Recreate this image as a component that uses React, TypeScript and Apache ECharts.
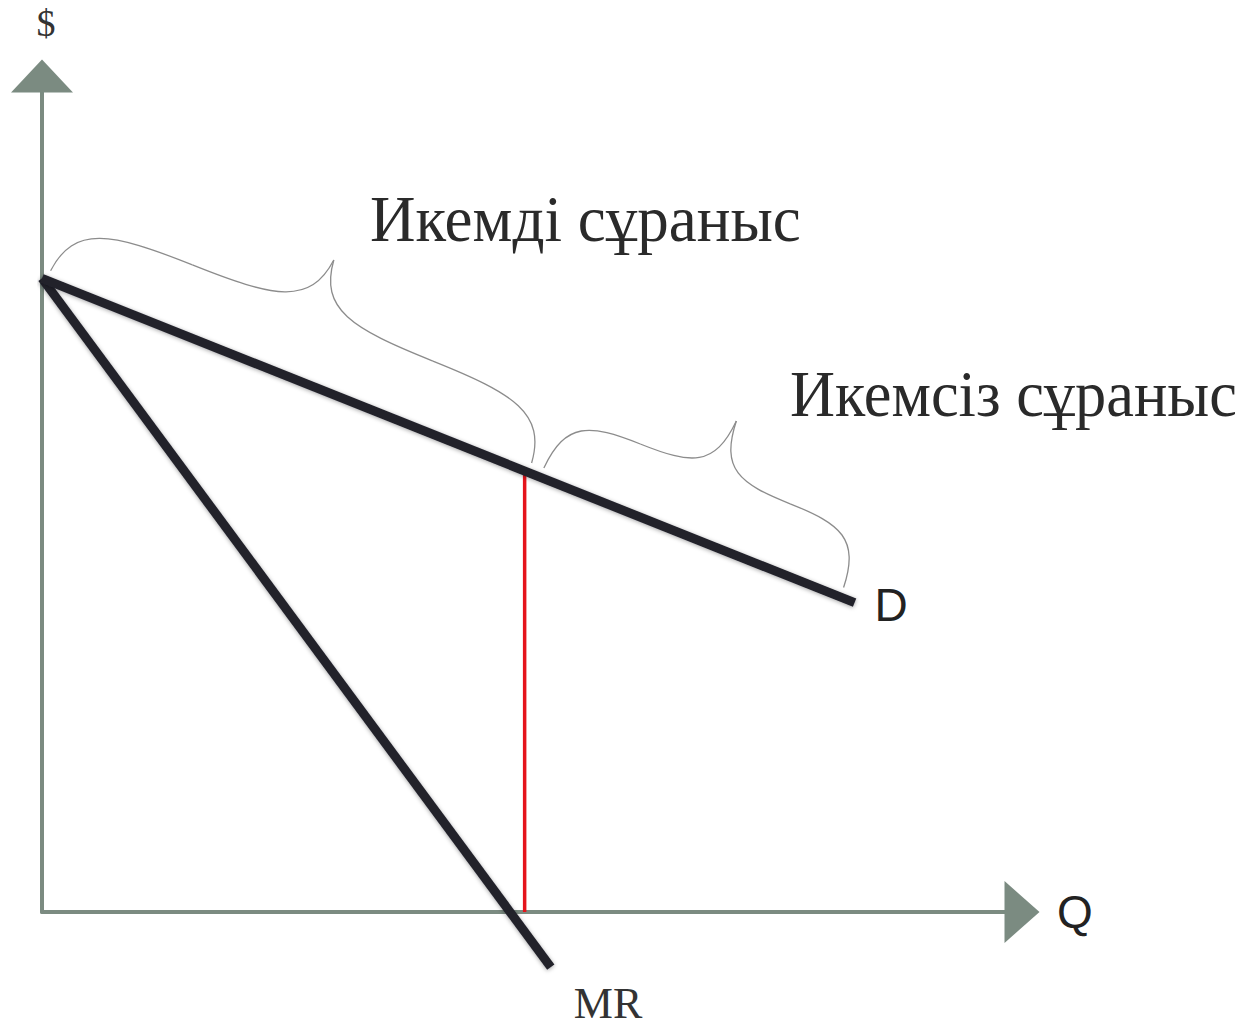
import React, { useEffect, useRef } from "react";
import * as echarts from "echarts";

// Demand curve D and marginal revenue MR (Q, $)
const demandCurve: [number, number][] = [
  [0, 7.58],
  [9.95, 3.7],
];
const marginalRevenue: [number, number][] = [
  [0, 7.58],
  [6.23, -0.66],
];
// vertical red line where MR = 0 (unit elasticity point)
const unitElasticLine: [number, number][] = [
  [5.91, 0],
  [5.91, 5.28],
];
// brace ranges along D
const elasticRange: [number, number][] = [
  [0.06, 7.56],
  [5.95, 5.26],
];
const inelasticRange: [number, number][] = [
  [6.1, 5.2],
  [9.77, 3.77],
];
const rangeLabels = ["Икемді сұраныс", "Икемсіз сұраныс"];
const xAxisName = "Q";
const yAxisName = "$";
const curveNames = ["D", "MR"];

const AXIS_COLOR = "#7b8b81";
const CURVE_COLOR = "#22222c";
const SERIF = '"Liberation Serif", "Times New Roman", serif';
const SANS = '"Liberation Sans", Arial, sans-serif';

function braceCurves(a: number[], b: number[]) {
  const dx = b[0] - a[0];
  const dy = b[1] - a[1];
  const L = Math.hypot(dx, dy);
  const u = [dx / L, dy / L];
  const n = [u[1], -u[0]];
  const e = 10;
  const arm = 68;
  const tip = 125;
  const P = (s: number, t: number) => [a[0] + s * u[0] + t * n[0], a[1] + s * u[1] + t * n[1]];
  const halves = [
    [
      [0, e],
      [0.01 * L, arm * 0.9],
      [0.08 * L, arm],
      [0.25 * L, arm],
    ],
    [
      [0.25 * L, arm],
      [0.42 * L, arm],
      [0.49 * L, arm + 6],
      [0.5 * L, tip],
    ],
  ];
  const segs: number[][][] = [];
  halves.forEach((h) => segs.push(h));
  halves.forEach((h) => segs.push(h.map(([s, t]) => [L - s, t])));
  return segs.map((seg) => {
    const p = seg.map(([s, t]) => P(s, t));
    return {
      type: "bezierCurve",
      silent: true,
      z: 5,
      shape: {
        x1: p[0][0],
        y1: p[0][1],
        cpx1: p[1][0],
        cpy1: p[1][1],
        cpx2: p[2][0],
        cpy2: p[2][1],
        x2: p[3][0],
        y2: p[3][1],
      },
      style: { stroke: "#8c8c8c", lineWidth: 1.3, fill: null },
    };
  });
}

export default function App() {
  const ref = useRef<HTMLDivElement>(null);
  useEffect(() => {
    if (!ref.current) return;
    const chart = echarts.init(ref.current, null, { renderer: "svg" });
    const option: any = {
      animation: false,
      backgroundColor: "#ffffff",
      grid: { left: 42, right: 228, top: 76, bottom: 117, containLabel: false, outerBoundsMode: "none" },
      xAxis: {
        type: "value",
        min: 0,
        max: 12,
        name: xAxisName,
        nameLocation: "end",
        nameGap: 35,
        nameTextStyle: { fontFamily: SANS, fontSize: 46, color: "#222" },
        axisLine: {
          show: true,
          onZero: false,
          symbol: ["none", "triangle"],
          symbolSize: [62, 35],
          lineStyle: { color: AXIS_COLOR, width: 4 },
        },
        axisTick: { show: false },
        axisLabel: { show: false },
        splitLine: { show: false },
      },
      yAxis: {
        type: "value",
        min: 0,
        max: 10,
        name: yAxisName,
        nameLocation: "end",
        nameGap: 53,
        nameTextStyle: {
          fontFamily: SERIF,
          fontSize: 38,
          color: "#333",
          align: "center",
          verticalAlign: "middle",
          padding: [0, 0, 0, 8],
        },
        axisLine: {
          show: true,
          onZero: false,
          symbol: ["none", "triangle"],
          symbolSize: [62, 33],
          lineStyle: { color: AXIS_COLOR, width: 4 },
        },
        axisTick: { show: false },
        axisLabel: { show: false },
        splitLine: { show: false },
      },
      series: [
        {
          type: "line",
          name: "unit",
          data: unitElasticLine,
          symbol: "none",
          clip: false,
          z: 3,
          lineStyle: { color: "#e5141b", width: 3.5 },
        },
        {
          type: "line",
          name: curveNames[1],
          data: marginalRevenue,
          symbol: "none",
          clip: false,
          z: 4,
          lineStyle: {
            color: CURVE_COLOR,
            width: 9,
            cap: "butt",
            shadowBlur: 4,
            shadowColor: "rgba(0,0,0,0.35)",
            shadowOffsetY: 1,
          },
          endLabel: {
            show: true,
            formatter: curveNames[1],
            distance: 5,
            offset: [18, 36],
            fontFamily: SERIF,
            fontSize: 44,
            lineHeight: 30,
            color: "#333",
          },
        },
        {
          type: "line",
          name: curveNames[0],
          data: demandCurve,
          symbol: "none",
          clip: false,
          z: 4,
          lineStyle: {
            color: CURVE_COLOR,
            width: 9,
            cap: "butt",
            shadowBlur: 4,
            shadowColor: "rgba(0,0,0,0.35)",
            shadowOffsetY: 1,
          },
          endLabel: {
            show: true,
            formatter: curveNames[0],
            distance: 20,
            offset: [0, 2],
            fontFamily: SANS,
            fontSize: 46,
            color: "#222",
          },
        },
      ],
    };
    chart.setOption(option);

    const toPx = (p: number[]) => chart.convertToPixel({ gridIndex: 0 }, p) as number[];
    const braces = [
      ...braceCurves(toPx(elasticRange[0]), toPx(elasticRange[1])),
      ...braceCurves(toPx(inelasticRange[0]), toPx(inelasticRange[1])),
    ];
    const texts = [
      {
        type: "text",
        silent: true,
        x: 370,
        y: 218,
        scaleX: 0.955,
        style: {
          text: rangeLabels[0],
          font: `66px ${SERIF}`,
          fill: "#2a2a2a",
          textAlign: "left",
          textVerticalAlign: "middle",
        },
      },
      {
        type: "text",
        silent: true,
        x: 790,
        y: 394,
        scaleX: 0.945,
        style: {
          text: rangeLabels[1],
          font: `66px ${SERIF}`,
          fill: "#2a2a2a",
          textAlign: "left",
          textVerticalAlign: "middle",
        },
      },
    ];
    chart.setOption({ graphic: [...braces, ...texts] });

    return () => chart.dispose();
  }, []);
  return (
    <div
      ref={ref}
      style={{ position: "fixed", left: 0, top: 0, width: 1250, height: 1029, background: "#fff" }}
    />
  );
}
